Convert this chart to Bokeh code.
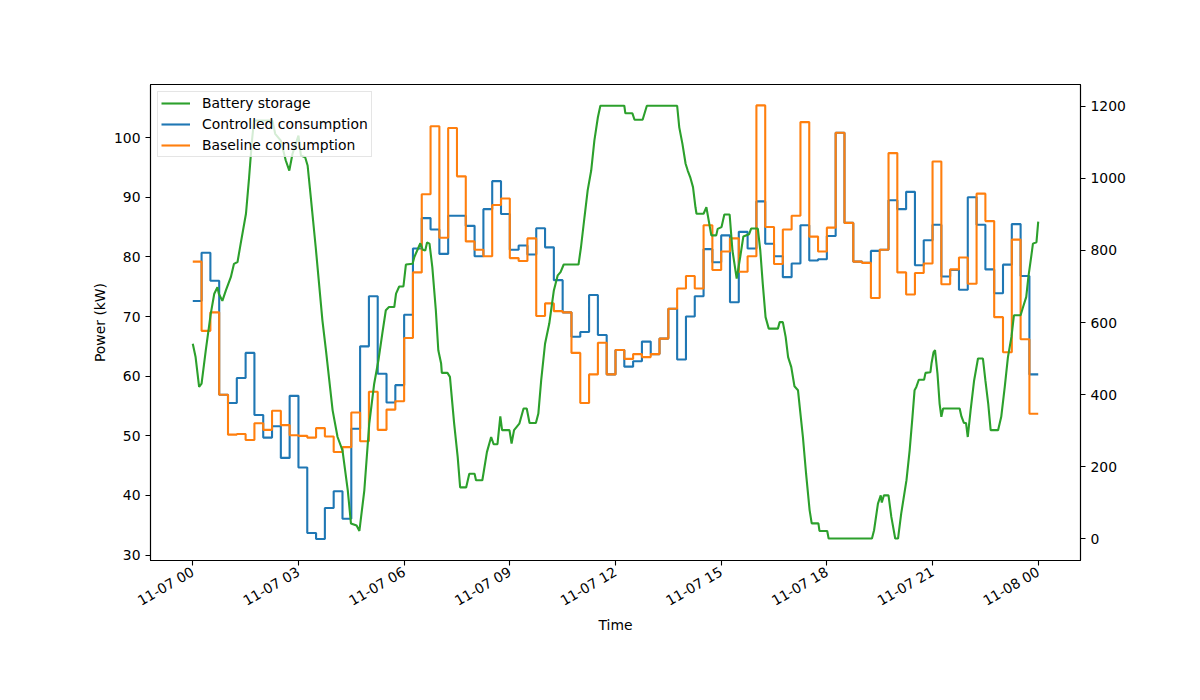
import numpy as np
from bokeh.plotting import figure
from bokeh.models import Range1d, LinearAxis, FixedTicker, Legend, LegendItem
from bokeh.embed import file_html
from bokeh.resources import INLINE

# ---- data ----
tick_hours = [0, 3, 6, 9, 12, 15, 18, 21, 24]
tick_labels = ["11-07 00", "11-07 03", "11-07 06", "11-07 09", "11-07 12",
               "11-07 15", "11-07 18", "11-07 21", "11-08 00"]

# 15-minute consumption readings (kW), 00:00 .. 23:45
controlled = [72.6, 80.7, 76.0, 56.9, 55.5, 59.7, 63.9, 53.5, 49.7, 51.6, 46.3, 56.7,
              44.7, 33.7, 32.7, 37.9, 40.7, 36.1, 51.2, 65.0, 73.4, 60.4, 55.6, 58.5,
              70.3, 81.4, 86.5, 84.6, 80.5, 86.9, 86.9, 85.2, 80.1, 88.0, 92.7, 87.2,
              81.2, 81.9, 80.4, 84.8, 81.6, 76.1, 70.7, 66.6, 67.4, 73.6, 66.9, 60.3,
              64.4, 61.6, 62.5, 65.8, 63.7, 66.3, 71.3, 62.8, 70.0, 73.4, 81.3, 79.1,
              83.6, 72.4, 84.2, 81.4, 89.3, 82.2, 80.1, 76.6, 78.9, 85.3, 79.4, 79.6,
              83.5, 100.8, 85.7, 79.2, 79.0, 81.0, 81.2, 89.5, 88.0, 90.9, 78.6, 82.8,
              85.4, 76.7, 77.8, 74.5, 90.0, 85.4, 77.9, 73.9, 78.7, 85.5, 76.8, 60.3]
baseline = [79.2, 67.6, 70.7, 56.9, 50.2, 50.3, 49.3, 52.1, 51.0, 54.2, 51.8, 50.1,
            50.0, 49.7, 51.3, 49.9, 47.3, 48.1, 53.9, 49.1, 57.4, 51.0, 54.4, 55.8,
            66.4, 77.4, 90.5, 101.9, 83.2, 101.6, 93.5, 82.6, 81.2, 80.1, 88.7, 89.8,
            79.8, 79.3, 83.1, 70.1, 72.2, 70.9, 70.7, 63.9, 55.5, 60.3, 65.6, 60.3,
            64.4, 62.9, 63.7, 63.2, 63.7, 66.3, 71.3, 74.7, 76.8, 74.7, 85.3, 77.8,
            80.9, 83.1, 77.5, 80.1, 105.4, 85.0, 78.8, 84.6, 86.9, 102.6, 83.4, 80.9,
            84.9, 100.8, 85.7, 79.2, 79.0, 73.1, 81.2, 97.4, 77.4, 73.7, 77.3, 78.9,
            96.0, 75.4, 77.9, 79.9, 75.5, 90.6, 86.0, 69.9, 64.0, 82.9, 66.2, 53.7]

# battery storage (kWh) readings: hours since 11-07 00:00, value
battery_t = [0, 0.08, 0.18, 0.25, 0.37, 0.51, 0.61, 0.70, 0.74, 0.84, 0.94, 1.08, 1.17, 1.27,
             1.36, 1.51, 1.60, 1.68, 1.74, 2.26, 2.34, 2.50, 2.64, 2.74, 2.83, 3.0, 3.07,
             3.19, 3.26, 3.35, 3.49, 3.68, 3.78, 3.97, 4.11, 4.25, 4.40, 4.49, 4.65, 4.73,
             4.87, 5.01, 5.15, 5.27, 5.38, 5.48, 5.57, 5.72, 5.77, 5.86, 5.98, 6.05, 6.24,
             6.29, 6.38, 6.46, 6.53, 6.60, 6.65, 6.72, 6.80, 6.90, 6.97, 7.05, 7.07, 7.23,
             7.30, 7.42, 7.52, 7.59, 7.76, 7.85, 8.0, 8.04, 8.22, 8.35, 8.47, 8.54, 8.65,
             8.73, 8.78, 8.99, 9.05, 9.12, 9.27, 9.39, 9.48, 9.56, 9.74, 9.81, 9.89, 10.0,
             10.12, 10.25, 10.36, 10.44, 10.53, 10.95, 11.02, 11.12, 11.21, 11.31, 11.40,
             11.50, 11.57, 12.25, 12.28, 12.48, 12.54, 12.77, 12.89, 13.75, 13.81, 13.90,
             13.99, 14.05, 14.12, 14.20, 14.27, 14.30, 14.50, 14.58, 14.72, 14.86, 14.90,
             15.01, 15.09, 15.24, 15.32, 15.44, 15.54, 15.63, 15.79, 15.85, 16.04, 16.11,
             16.18, 16.26, 16.35, 16.61, 16.66, 16.75, 16.83, 16.90, 16.99, 17.08, 17.18,
             17.24, 17.32, 17.41, 17.51, 17.57, 17.76, 17.79, 18.01, 18.05, 19.28, 19.34,
             19.45, 19.53, 19.56, 19.62, 19.75, 19.83, 19.94, 20.02, 20.11, 20.26, 20.35,
             20.43, 20.49, 20.54, 20.61, 20.76, 20.80, 20.94, 20.97, 21.03, 21.07, 21.14,
             21.20, 21.25, 21.30, 21.77, 21.82, 21.89, 21.95, 22.0, 22.08, 22.18, 22.29,
             22.43, 22.50, 22.58, 22.65, 22.86, 22.95, 23.05, 23.14, 23.24, 23.31, 23.50,
             23.57, 23.66, 23.72, 23.80, 23.85, 23.95, 24.0]
battery_v = [541, 504, 421, 430, 523, 624, 680, 698, 680, 660, 689, 726, 763, 768,
             819, 902, 1004, 1105, 1161, 1161, 1124, 1105, 1050, 1022, 1068, 1119, 1064,
             1059, 1036, 948, 809, 606, 523, 356, 282, 245, 134, 42, 36, 21,
             134, 319, 430, 495, 569, 634, 643, 643, 680, 700, 700, 761, 763,
             782, 802, 820, 802, 800, 822, 819, 754, 634, 523, 486, 460, 460,
             449, 319, 227, 142, 142, 180, 180, 162, 162, 240, 282, 262, 262,
             339, 301, 301, 264, 301, 319, 361, 361, 321, 321, 347, 439, 541,
             597, 689, 731, 740, 761, 761, 809, 893, 967, 1022, 1105,
             1170, 1202, 1202, 1181, 1181, 1163, 1163, 1202, 1202, 1142, 1096,
             1041, 1022, 1004, 976, 920, 902, 902, 920, 842, 842, 860,
             865, 900, 900, 800, 722, 782, 839, 845, 861, 861, 800,
             708, 615, 583, 583, 601, 601, 560, 504, 476, 423, 412,
             356, 282, 180, 79, 42, 42, 21, 21, 0, 0, 23,
             97, 120, 100, 120, 120, 60, 0, 0, 69, 162, 245,
             338, 412, 421, 441, 441, 460, 462, 486, 518, 523, 458,
             375, 338, 361, 361, 339, 321, 321, 282, 356, 439, 500,
             500, 439, 375, 301, 301, 338, 421, 504, 560, 620, 620,
             643, 671, 726, 782, 819, 823, 880]

# ---- build ----
step_t = list(np.arange(len(controlled) + 1) * 0.25)
ctrl_y = controlled + [controlled[-1]]
base_y = baseline + [baseline[-1]]

FONT = "DejaVu Sans"
FS = "13.9px"

p = figure(width=1184, height=684, output_backend="svg", toolbar_location=None,
           x_range=Range1d(-1.2, 25.2), y_range=Range1d(29.1, 108.9),
           min_border_left=150, min_border_right=104, min_border_top=84,
           min_border_bottom=124)
p.extra_y_ranges = {"battery": Range1d(-61, 1261)}
p.xgrid.visible = False
p.ygrid.visible = False
p.outline_line_color = "black"
p.outline_line_width = 1.1
p.background_fill_color = "white"
p.border_fill_color = "white"

r_ctrl = p.step(step_t, ctrl_y, mode="after", line_color="#1f77b4", line_width=2.1)
r_base = p.step(step_t, base_y, mode="after", line_color="#ff7f0e", line_width=2.1)
r_bat = p.line(battery_t, battery_v, y_range_name="battery", line_color="#2ca02c",
               line_width=2.1)

right = LinearAxis(y_range_name="battery", ticker=FixedTicker(ticks=[0, 200, 400, 600, 800, 1000, 1200]))
p.add_layout(right, "right")

p.xaxis.ticker = FixedTicker(ticks=tick_hours)
p.xaxis.major_label_overrides = {h: lab for h, lab in zip(tick_hours, tick_labels)}
p.xaxis.major_label_orientation = np.pi / 6
p.yaxis[0].ticker = FixedTicker(ticks=[30, 40, 50, 60, 70, 80, 90, 100])

p.xaxis.axis_label = "Time"
p.yaxis[0].axis_label = "Power (kW)"

for ax in p.xaxis + p.yaxis:
    ax.axis_line_color = "black"
    ax.axis_line_width = 1.1
    ax.major_tick_line_color = "black"
    ax.major_tick_line_width = 1.1
    ax.major_tick_out = 5
    ax.major_tick_in = 0
    ax.minor_tick_line_color = None
    ax.major_label_text_font = FONT
    ax.major_label_text_font_size = FS
    ax.major_label_text_color = "black"
    ax.major_label_standoff = 5
    ax.axis_label_text_font = FONT
    ax.axis_label_text_font_size = FS
    ax.axis_label_text_font_style = "normal"
    ax.axis_label_text_color = "black"
p.yaxis[0].axis_label_standoff = 3
p.xaxis.axis_label_standoff = -2

legend = Legend(items=[LegendItem(label="Battery storage", renderers=[r_bat]),
                       LegendItem(label="Controlled consumption", renderers=[r_ctrl]),
                       LegendItem(label="Baseline consumption", renderers=[r_base])],
                location="top_left")
legend.label_text_font = FONT
legend.label_text_font_size = FS
legend.label_text_color = "black"
legend.glyph_width = 29
legend.glyph_height = 16
legend.label_height = 16
legend.spacing = 5
legend.padding = 3
legend.margin = 7
legend.label_standoff = 12
legend.border_line_color = "#cccccc"
legend.background_fill_alpha = 0.8
p.add_layout(legend)

open("out.html", "w").write(file_html(p, INLINE))
